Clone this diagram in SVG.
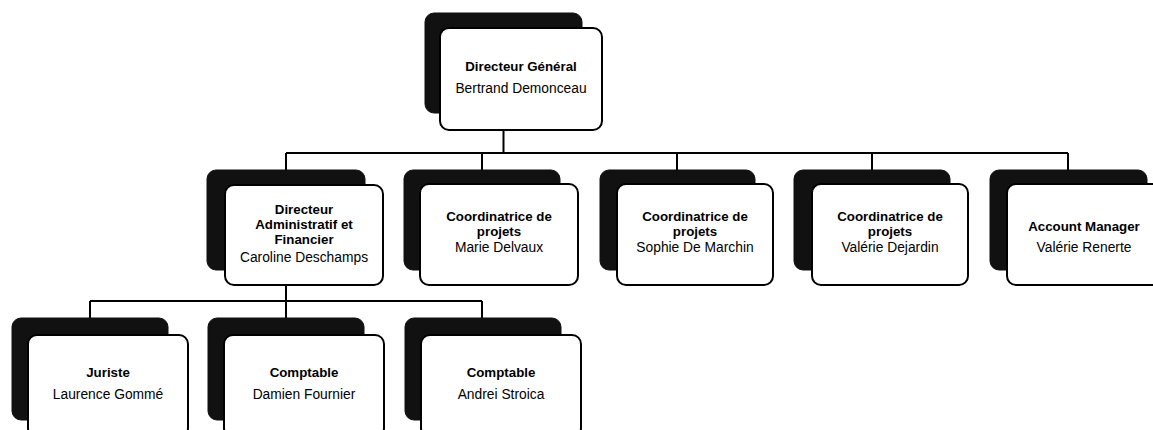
<svg xmlns="http://www.w3.org/2000/svg" width="1153" height="430" viewBox="0 0 1153 430">
<style>
.sh{fill:#111;stroke:#111;stroke-width:1}
.bx{fill:#fff;stroke:#000;stroke-width:2}
.t{font-family:"Liberation Sans",Arial,sans-serif;font-size:13.3px;font-weight:bold;fill:#000;text-anchor:middle}
.n{font-family:"Liberation Sans",Arial,sans-serif;font-size:13.8px;fill:#000;text-anchor:middle}
.c{fill:none;stroke:#000;stroke-width:2}
</style>
<rect width="1153" height="430" fill="#fff"/>
<g id="connectors">
<path class="c" d="M503.5 130V153M286 153H1068M286 153V170M482 153V170M677 153V170M872 153V170M1068 153V170"/>
<path class="c" d="M286 285V301M90 301H482M90 301V318M286 301V318M482 301V318"/>
</g>
<g id="n-dg">
<rect class="sh" x="425" y="13" width="157" height="100" rx="9"/>
<rect class="bx" x="440" y="28" width="162" height="102" rx="9"/>
<text class="t" x="521" y="71">Directeur Général</text>
<text class="n" x="521" y="93">Bertrand Demonceau</text>
</g>
<g id="n-daf">
<rect class="sh" x="207" y="170" width="158" height="100" rx="9"/>
<rect class="bx" x="225" y="185" width="158" height="100" rx="9"/>
<text class="t" x="304" y="214">Directeur</text>
<text class="t" x="304" y="229">Administratif et</text>
<text class="t" x="304" y="244">Financier</text>
<text class="n" x="304" y="262">Caroline Deschamps</text>
</g>
<g id="n-marie">
<rect class="sh" x="404" y="170" width="156" height="100" rx="9"/>
<rect class="bx" x="420" y="184" width="158" height="101" rx="9"/>
<text class="t" x="499" y="221">Coordinatrice de</text>
<text class="t" x="499" y="236">projets</text>
<text class="n" x="499" y="252">Marie Delvaux</text>
</g>
<g id="n-sophie">
<rect class="sh" x="600" y="170" width="155" height="100" rx="9"/>
<rect class="bx" x="617" y="184" width="156" height="101" rx="9"/>
<text class="t" x="695" y="221">Coordinatrice de</text>
<text class="t" x="695" y="236">projets</text>
<text class="n" x="695" y="252">Sophie De Marchin</text>
</g>
<g id="n-valerie-d">
<rect class="sh" x="794" y="170" width="156" height="100" rx="9"/>
<rect class="bx" x="812" y="184" width="156" height="101" rx="9"/>
<text class="t" x="890" y="221">Coordinatrice de</text>
<text class="t" x="890" y="236">projets</text>
<text class="n" x="890" y="252">Valérie Dejardin</text>
</g>
<g id="n-account">
<rect class="sh" x="990" y="170" width="157" height="100" rx="9"/>
<rect class="bx" x="1007" y="184" width="158" height="101" rx="9"/>
<text class="t" x="1084" y="231">Account Manager</text>
<text class="n" x="1084" y="252">Valérie Renerte</text>
</g>
<g id="n-juriste">
<rect class="sh" x="12" y="318" width="156" height="102" rx="9"/>
<rect class="bx" x="28" y="335" width="160" height="102" rx="9"/>
<text class="t" x="108" y="377">Juriste</text>
<text class="n" x="108" y="399">Laurence Gommé</text>
</g>
<g id="n-compta1">
<rect class="sh" x="208" y="318" width="156" height="102" rx="9"/>
<rect class="bx" x="224" y="335" width="160" height="102" rx="9"/>
<text class="t" x="304" y="377">Comptable</text>
<text class="n" x="304" y="399">Damien Fournier</text>
</g>
<g id="n-compta2">
<rect class="sh" x="405" y="318" width="156" height="102" rx="9"/>
<rect class="bx" x="421" y="335" width="160" height="102" rx="9"/>
<text class="t" x="501" y="377">Comptable</text>
<text class="n" x="501" y="399">Andrei Stroica</text>
</g>
</svg>
